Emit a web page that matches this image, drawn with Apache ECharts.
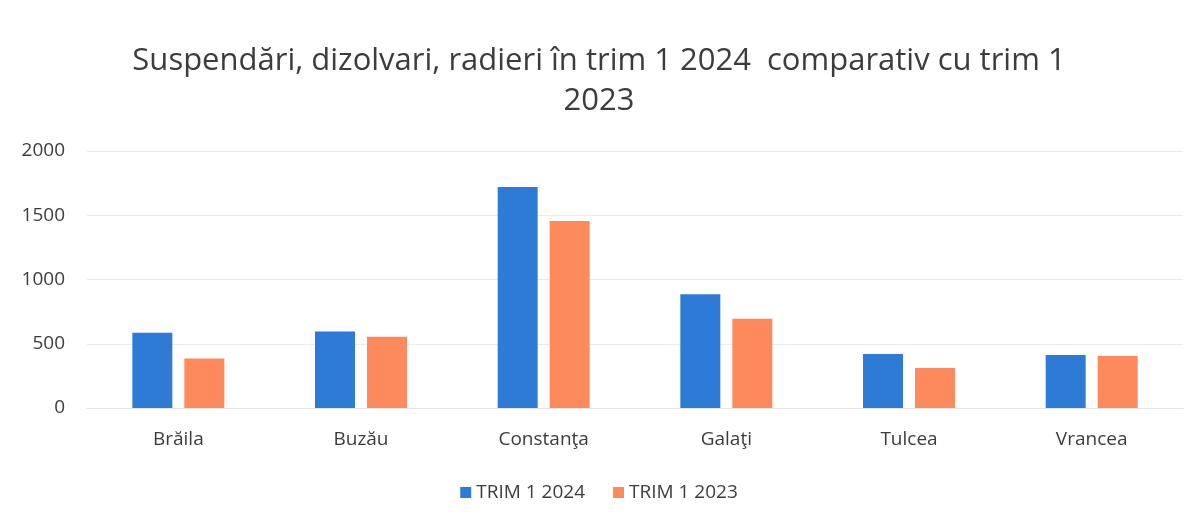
<!DOCTYPE html>
<html>
<head>
<meta charset="utf-8">
<script src="https://cdn.jsdelivr.net/npm/echarts@6/dist/echarts.min.js"></script>
<style>
  html, body { margin: 0; padding: 0; background: #fff; }
  #chart { width: 1198px; height: 524px; }
</style>
</head>
<body>
<div id="chart"></div>
<script>
  // judete
  var categories = ['Brăila', 'Buzău', 'Constanţa', 'Galaţi', 'Tulcea', 'Vrancea'];
  var trim2024 = [585, 595, 1720, 885, 420, 412];
  var trim2023 = [385, 555, 1455, 694, 311, 405];
  var seriesNames = ['TRIM 1 2024', 'TRIM 1 2023'];
  var yTicks = [0, 500, 1000, 1500, 2000];

  var textColor = '#3c3c3c';
  var font = '"Open Sans", Lato, sans-serif';

  var myChart = echarts.init(document.getElementById('chart'));
  var option = {
    backgroundColor: '#fff',
    animation: false,
    title: {
      text: 'Suspendări, dizolvari, radieri în trim 1 2024  comparativ cu trim 1\n2023',
      left: 'center',
      top: 36,
      textStyle: {
        color: textColor,
        fontFamily: font,
        fontWeight: 'normal',
        fontSize: 31,
        lineHeight: 40
      }
    },
    legend: {
      data: seriesNames,
      bottom: 17,
      left: 'center',
      itemWidth: 11,
      itemHeight: 11,
      itemGap: 28,
      icon: 'rect',
      textStyle: { color: textColor, fontFamily: font, fontSize: 19 }
    },
    grid: {
      left: 87,
      right: 15,
      top: 151,
      bottom: 116
    },
    xAxis: {
      type: 'category',
      data: categories,
      axisLine: { show: true, lineStyle: { color: '#e6e6e6' } },
      axisTick: { show: false },
      axisLabel: { color: textColor, fontFamily: font, fontSize: 19, margin: 22 }
    },
    yAxis: {
      type: 'value',
      min: yTicks[0],
      max: yTicks[yTicks.length - 1],
      interval: 500,
      axisLine: { show: false },
      axisTick: { show: false },
      splitLine: { lineStyle: { color: '#ebebeb' } },
      axisLabel: {
        color: textColor, fontFamily: font, fontSize: 19, margin: 22,
        formatter: function (v) { return String(v); }
      }
    },
    series: [
      {
        name: seriesNames[0],
        type: 'bar',
        data: trim2024,
        barWidth: 40,
        barGap: '30%',
        itemStyle: { color: '#2e7bd6' }
      },
      {
        name: seriesNames[1],
        type: 'bar',
        data: trim2023,
        barWidth: 40,
        itemStyle: { color: '#fd8a5c' }
      }
    ]
  };
  myChart.setOption(option);
</script>
</body>
</html>
